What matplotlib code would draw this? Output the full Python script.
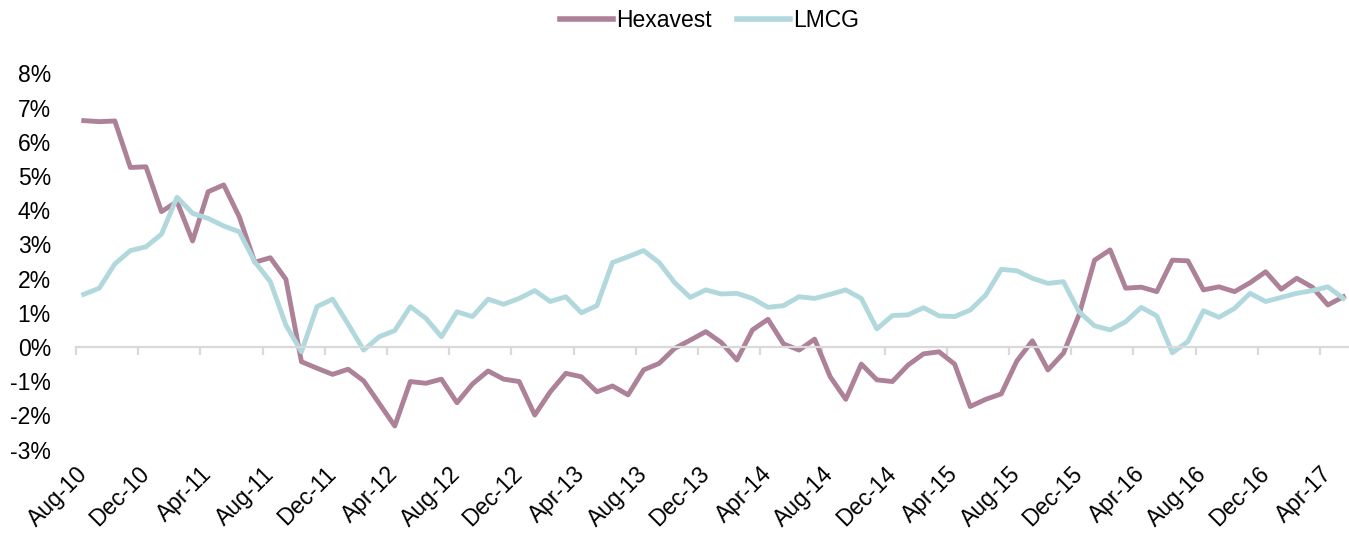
import numpy as np
import matplotlib
matplotlib.use('Agg')
import matplotlib.pyplot as plt
from matplotlib.ticker import FuncFormatter

# monthly relative performance (%), Aug-10 .. May-17
hexavest = [6.62, 6.59, 6.61, 5.25, 5.27, 3.96, 4.25, 3.10, 4.54, 4.74, 3.81, 2.48, 2.61, 1.98,
            -0.43, -0.62, -0.80, -0.65, -0.99, -1.65, -2.31, -1.01, -1.06, -0.94, -1.63, -1.08, -0.70, -0.94,
            -1.01, -1.99, -1.31, -0.77, -0.87, -1.31, -1.14, -1.40, -0.67, -0.48, -0.04, 0.20, 0.45, 0.13,
            -0.38, 0.50, 0.81, 0.09, -0.09, 0.23, -0.87, -1.53, -0.50, -0.96, -1.01, -0.53, -0.20, -0.14,
            -0.50, -1.74, -1.53, -1.37, -0.41, 0.18, -0.67, -0.18, 0.94, 2.54, 2.84, 1.72, 1.75, 1.62,
            2.54, 2.52, 1.67, 1.76, 1.62, 1.88, 2.20, 1.69, 2.01, 1.75, 1.23, 1.47]
lmcg = [1.54, 1.72, 2.43, 2.82, 2.93, 3.30, 4.38, 3.91, 3.76, 3.54, 3.37, 2.49, 1.91, 0.64,
        -0.14, 1.18, 1.40, 0.67, -0.09, 0.30, 0.48, 1.18, 0.84, 0.30, 1.03, 0.89, 1.40, 1.25,
        1.42, 1.65, 1.33, 1.47, 1.00, 1.21, 2.47, 2.64, 2.82, 2.47, 1.88, 1.45, 1.67, 1.55,
        1.57, 1.42, 1.16, 1.21, 1.47, 1.42, 1.54, 1.67, 1.42, 0.53, 0.92, 0.94, 1.15, 0.91,
        0.89, 1.08, 1.52, 2.27, 2.23, 2.01, 1.86, 1.91, 1.03, 0.62, 0.50, 0.74, 1.16, 0.91,
        -0.17, 0.16, 1.06, 0.87, 1.13, 1.57, 1.33, 1.45, 1.57, 1.65, 1.76, 1.42]
tick_labels = ['Aug-10', 'Dec-10', 'Apr-11', 'Aug-11', 'Dec-11', 'Apr-12', 'Aug-12', 'Dec-12',
               'Apr-13', 'Aug-13', 'Dec-13', 'Apr-14', 'Aug-14', 'Dec-14', 'Apr-15', 'Aug-15',
               'Dec-15', 'Apr-16', 'Aug-16', 'Dec-16', 'Apr-17']

HEX_COLOR = '#AD8197'
LMCG_COLOR = '#B1D8DD'
AXIS_GREY = '#D9D9D9'
FS = 16.5

plt.rcParams['font.family'] = ['Liberation Sans', 'DejaVu Sans']

fig = plt.figure(figsize=(13.49, 5.36), dpi=100)
ax = fig.add_axes([0.0563, 0.1612, 0.9437, 0.7018])

x = np.arange(len(hexavest))
ax.plot(x, hexavest, color=HEX_COLOR, lw=3.5, label='Hexavest')
ax.plot(x, lmcg, color=LMCG_COLOR, lw=3.5, label='LMCG')

ax.set_xlim(-0.5, 81.36)
ax.set_ylim(-3, 8)

# y axis: labels only
ax.set_yticks(np.arange(-3, 9, 1))
ax.yaxis.set_major_formatter(FuncFormatter(lambda v, p: f'{v:.0f}%'))
ax.tick_params(axis='y', length=0, pad=18, labelsize=FS)

for side in ['left', 'right', 'top']:
    ax.spines[side].set_visible(False)

# category axis line crosses at 0 with tick marks between categories
label_pos = np.arange(len(tick_labels)) * 4
ax.spines['bottom'].set_position(('data', 0))
ax.spines['bottom'].set_color(AXIS_GREY)
ax.spines['bottom'].set_linewidth(1.6)
ax.set_xticks(label_pos - 0.5)
ax.tick_params(axis='x', direction='out', length=6, width=1.6, color=AXIS_GREY, labelbottom=False)

# labels sit at the bottom of the plot area, on the category itself
sec = ax.secondary_xaxis('bottom')
sec.set_xticks(label_pos)
sec.set_xticklabels(tick_labels, rotation=45, ha='right', va='center', rotation_mode='anchor')
sec.tick_params(length=0, pad=15, labelsize=FS)
sec.spines['bottom'].set_visible(False)

leg = fig.legend(loc='center', bbox_to_anchor=(0.526, 0.961), ncol=2, frameon=False,
                 fontsize=FS, handlelength=2.3, handletextpad=0.15, columnspacing=1.1)
for line in leg.get_lines():
    line.set_linewidth(4)

fig.savefig('out.png', dpi=100)
